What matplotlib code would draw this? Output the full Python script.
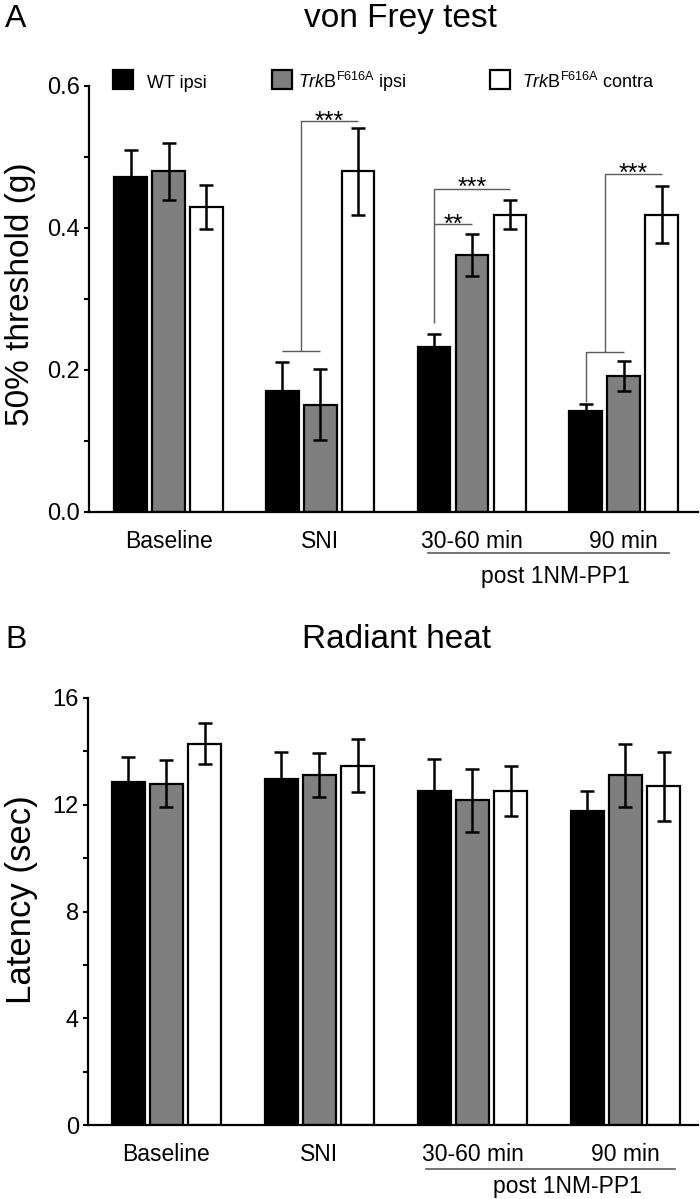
import matplotlib
matplotlib.use('Agg')
import matplotlib.pyplot as plt
import matplotlib.transforms as mtransforms
from matplotlib.patches import Rectangle
import numpy as np

plt.rcParams['font.family'] = ['Liberation Sans', 'DejaVu Sans']
plt.rcParams['mathtext.fontset'] = 'custom'
plt.rcParams['mathtext.rm'] = 'Liberation Sans'
plt.rcParams['mathtext.it'] = 'Liberation Sans:italic'
plt.rcParams['mathtext.bf'] = 'Liberation Sans:bold'

# ---------------- data ----------------
groups = ['Baseline', 'SNI', '30-60 min', '90 min']
series_labels = ['WT ipsi',
                 r'$\mathit{Trk}\mathrm{B}^{\mathrm{F616A}}$ ipsi',
                 r'$\mathit{Trk}\mathrm{B}^{\mathrm{F616A}}$ contra']
series_colors = ['black', '#7f7f7f', 'white']

# von Frey 50% threshold (g)
vf_wt = [0.472, 0.170, 0.232, 0.142]
vf_wt_err = [0.038, 0.041, 0.019, 0.010]
vf_ki = [0.480, 0.151, 0.362, 0.191]
vf_ki_err = [0.040, 0.050, 0.030, 0.021]
vf_contra = [0.430, 0.480, 0.419, 0.419]
vf_contra_err = [0.031, 0.061, 0.020, 0.040]

# Radiant heat latency (sec)
rh_wt = [12.87, 12.96, 12.50, 11.75]
rh_wt_err = [0.92, 1.02, 1.20, 0.75]
rh_ki = [12.78, 13.11, 12.16, 13.10]
rh_ki_err = [0.88, 0.83, 1.19, 1.18]
rh_contra = [14.29, 13.46, 12.50, 12.69]
rh_contra_err = [0.77, 0.99, 0.94, 1.30]

# ---------------- layout ----------------
W, H = 700, 1199
fig = plt.figure(figsize=(7, 11.99), dpi=100)


def fx(px):
    return px / W


def fy(py):
    return 1 - py / H


axA = fig.add_axes([fx(89), fy(512), fx(698) - fx(89), (512 - 86) / H])
axB = fig.add_axes([fx(88), fy(1125), fx(698) - fx(88), (1125 - 698) / H])

offsets = [-0.25, 0.0, 0.25]
bar_w = 0.215
xg = np.arange(len(groups))


def draw_bars(ax, vals, errs):
    for i, (v, e) in enumerate(zip(vals, errs)):
        ax.bar(xg + offsets[i], v, width=bar_w, color=series_colors[i],
               edgecolor='black', linewidth=1.6, zorder=2)
        ax.errorbar(xg + offsets[i], v, yerr=e, fmt='none', ecolor='black',
                    elinewidth=1.8, capsize=5, capthick=1.8, zorder=3)


def style(ax, ylim, major, minor, xlim):
    ax.set_xlim(*xlim)
    ax.set_ylim(*ylim)
    for s in ['top', 'right']:
        ax.spines[s].set_visible(False)
    for s in ['left', 'bottom']:
        ax.spines[s].set_linewidth(1.6)
    ax.set_xticks(xg)
    ax.set_xticklabels(groups, fontsize=16.5)
    ax.tick_params(axis='x', length=0, pad=13)
    ax.set_yticks(major)
    ax.set_yticks(minor, minor=True)
    ax.tick_params(axis='y', which='both', direction='out', length=3.5,
                   width=1.5, labelsize=17, pad=3)


draw_bars(axA, [vf_wt, vf_ki, vf_contra], [vf_wt_err, vf_ki_err, vf_contra_err])
style(axA, (0, 0.6), [0.0, 0.2, 0.4, 0.6], [0.1, 0.3, 0.5], (-0.524, 3.49))
axA.set_yticklabels(['0.0', '0.2', '0.4', '0.6'])

draw_bars(axB, [rh_wt, rh_ki, rh_contra], [rh_wt_err, rh_ki_err, rh_contra_err])
style(axB, (0, 16), [0, 4, 8, 12, 16], [2, 6, 10, 14], (-0.513, 3.474))

# ---------------- significance brackets (panel A) ----------------
lc = '#5a5a5a'
lw = 1.0
star_fs = 18


def seg(ax, xs, ys):
    ax.plot(xs, ys, color=lc, lw=lw, zorder=4, solid_capstyle='butt')


# SNI
seg(axA, [0.75, 1.0], [0.227, 0.227])
seg(axA, [0.875, 0.875, 1.25], [0.227, 0.551, 0.551])
axA.text(1.0625, 0.540, '***', ha='center', va='baseline', fontsize=star_fs)
# 30-60 min
seg(axA, [1.75, 1.75, 2.25], [0.266, 0.455, 0.455])
seg(axA, [1.75, 2.0], [0.405, 0.405])
axA.text(2.0, 0.447, '***', ha='center', va='baseline', fontsize=star_fs)
axA.text(1.875, 0.395, '**', ha='center', va='baseline', fontsize=star_fs)
# 90 min
seg(axA, [2.75, 2.75, 3.0], [0.155, 0.225, 0.225])
seg(axA, [2.875, 2.875, 3.25], [0.225, 0.4765, 0.4765])
axA.text(3.0625, 0.4665, '***', ha='center', va='baseline', fontsize=star_fs)

# ---------------- "post 1NM-PP1" underline ----------------
for ax, x0, x1, yl, xt, yt in [(axA, 1.711, 3.299, -0.096, 2.548, -0.166),
                               (axB, 1.696, 3.324, -0.103, 2.618, -0.159)]:
    tr = mtransforms.blended_transform_factory(ax.transData, ax.transAxes)
    ax.plot([x0, x1], [yl, yl], transform=tr, color=lc, lw=1.2, clip_on=False)
    ax.text(xt, yt, 'post 1NM-PP1', transform=tr, ha='center', va='baseline',
            fontsize=16.5)

# ---------------- legend (manual) ----------------
leg_sq = [113, 272, 490]
leg_tx = [147, 298, 522]
for i in range(3):
    fig.add_artist(Rectangle((fx(leg_sq[i]), fy(89)), 20 / W, 19 / H,
                             transform=fig.transFigure,
                             facecolor=series_colors[i], edgecolor='black',
                             linewidth=1.6))
    fig.text(fx(leg_tx[i]), fy(88), series_labels[i], fontsize=13,
             va='baseline', ha='left')

# ---------------- titles / labels ----------------
fig.text(fx(5), fy(27), 'A', fontsize=23, va='baseline', ha='left')
fig.text(fx(400), fy(27), 'von Frey test', fontsize=24, va='baseline', ha='center')
fig.text(fx(5), fy(648), 'B', fontsize=23, va='baseline', ha='left')
fig.text(fx(397), fy(648), 'Radiant heat', fontsize=24, va='baseline', ha='center')

fig.text(fx(21), fy(294), '50% threshold (g)', rotation=90, fontsize=24,
         ha='center', va='center')
fig.text(fx(22), fy(900), 'Latency (sec)', rotation=90, fontsize=25,
         ha='center', va='center')

fig.savefig('out.png', dpi=100)
